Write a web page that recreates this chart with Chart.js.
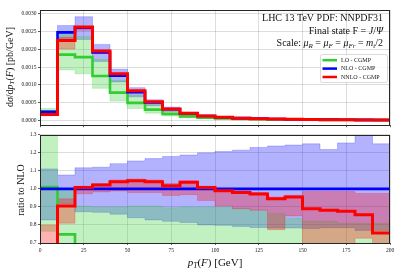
<!DOCTYPE html>
<html>
<head>
<meta charset="utf-8">
<script src="https://cdn.jsdelivr.net/npm/chart.js@4.4.1/dist/chart.umd.min.js"></script>
<style>
  html, body { margin: 0; padding: 0; background: #fff; }
  #wrap { position: relative; width: 407px; height: 271px; }
  #top { position: absolute; left: 0; top: 0; }
  #bottom { position: absolute; left: 0; top: 130px; }
</style>
</head>
<body>
<div id="wrap">
  <canvas id="top" width="407" height="130"></canvas>
  <canvas id="bottom" width="407" height="141"></canvas>
</div>
<script>
// bins of 10 GeV, left edges
const binStarts = [0, 10, 20, 30, 40, 50, 60, 70, 80, 90, 100, 110, 120, 130, 140, 150, 160, 170, 180, 190];
const binEnd = 200;

// upper panel: dsigma/dpT [pb/GeV]
const loCentral   = [0.00024, 0.00185, 0.00178, 0.00125, 0.00078, 0.00049, 0.00030, 0.00018, 0.00011, 0.00007, 0.00005, 0.000035, 0.000026, 0.00002, 0.000015, 0.000012, 0.000009, 0.000007, 0.0000055, 0.0000045];
const nloCentral  = [0.00024, 0.00248, 0.00261, 0.00191, 0.00126, 0.00079, 0.00050, 0.00031, 0.00019, 0.00012, 0.000085, 0.00006, 0.000045, 0.000035, 0.000027, 0.000021, 0.000016, 0.000013, 0.00001, 0.000008];
const nnloCentral = [0.00016, 0.00225, 0.00263, 0.00195, 0.00131, 0.00083, 0.00052, 0.00032, 0.00020, 0.00012, 0.000084, 0.000059, 0.000044, 0.000033, 0.000026, 0.000019, 0.000014, 0.000011, 0.0000086, 0.000006];

const loLow   = [0.00018, 0.00142, 0.00131, 0.00090, 0.00054, 0.00033, 0.00020, 0.00012, 0.00007, 0.000045, 0.00003, 0.000022, 0.000016, 0.000012, 0.000009, 0.000007, 0.0000055, 0.0000045, 0.0000035, 0.000003];
const loHigh  = [0.00033, 0.00247, 0.00236, 0.00172, 0.00113, 0.00071, 0.00045, 0.00028, 0.00017, 0.000108, 0.000077, 0.000053, 0.00004, 0.00003, 0.000024, 0.000017, 0.000013, 0.00001, 0.000008, 0.0000065];
const nloLow  = [0.00020, 0.00228, 0.00228, 0.00166, 0.00108, 0.00066, 0.00041, 0.00025, 0.000155, 0.000096, 0.000068, 0.000048, 0.000035, 0.000027, 0.000021, 0.000016, 0.000013, 0.00001, 0.0000077, 0.0000062];
const nloHigh = [0.00027, 0.00267, 0.00292, 0.00214, 0.00144, 0.00092, 0.00058, 0.00037, 0.000226, 0.000144, 0.000103, 0.000073, 0.000055, 0.000043, 0.000034, 0.000026, 0.00002, 0.000016, 0.000013, 0.00001];
const nnloLow  = [0.00013, 0.00201, 0.00254, 0.00188, 0.00124, 0.00077, 0.00049, 0.00030, 0.00018, 0.00011, 0.000077, 0.000053, 0.00004, 0.000027, 0.000023, 0.000014, 0.000011, 0.000009, 0.0000072, 0.0000052];
const nnloHigh = [0.00019, 0.00234, 0.00265, 0.00197, 0.00132, 0.00083, 0.00053, 0.00032, 0.00020, 0.00012, 0.000085, 0.000059, 0.000044, 0.000033, 0.000026, 0.00002, 0.000016, 0.000013, 0.00001, 0.0000078];

// lower panel: ratio to NLO
const ratioLo    = [1.01, 0.748, 0.685, 0.655, 0.62, 0.62, 0.60, 0.58, 0.58, 0.58, 0.59, 0.58, 0.58, 0.57, 0.56, 0.57, 0.56, 0.54, 0.55, 0.56];
const ratioNlo   = [1, 1, 1, 1, 1, 1, 1, 1, 1, 1, 1, 1, 1, 1, 1, 1, 1, 1, 1, 1];
const ratioNnlo  = [0.68, 0.905, 1.008, 1.022, 1.04, 1.045, 1.04, 1.018, 1.037, 1.008, 0.99, 0.98, 0.972, 0.945, 0.955, 0.89, 0.882, 0.876, 0.857, 0.755];
const ratioLoLow   = [0.765, 0.5, 0.5, 0.5, 0.5, 0.5, 0.5, 0.5, 0.5, 0.5, 0.5, 0.5, 0.5, 0.5, 0.5, 0.5, 0.5, 0.5, 0.5, 0.5];
const ratioLoHigh  = [1.4, 0.999, 0.905, 0.9, 0.9, 0.905, 0.905, 0.895, 0.9, 0.9, 0.9, 0.891, 0.882, 0.864, 0.837, 0.82, 0.82, 0.81, 0.81, 0.81];
const ratioNloLow  = [0.828, 0.918, 0.873, 0.87, 0.86, 0.84, 0.828, 0.82, 0.814, 0.8, 0.798, 0.792, 0.786, 0.783, 0.783, 0.78, 0.785, 0.785, 0.77, 0.77];
const ratioNloHigh = [1.111, 1.077, 1.117, 1.12, 1.14, 1.155, 1.168, 1.18, 1.188, 1.2, 1.208, 1.215, 1.23, 1.238, 1.243, 1.25, 1.218, 1.255, 1.31, 1.25];
const ratioNnloLow  = [0.6, 0.81, 0.973, 0.983, 0.988, 0.98, 0.98, 0.963, 0.968, 0.936, 0.905, 0.89, 0.882, 0.774, 0.85, 0.65, 0.65, 0.65, 0.727, 0.65];
const ratioNnloHigh = [0.80, 0.945, 1.015, 1.03, 1.05, 1.055, 1.05, 1.03, 1.045, 1.015, 1.0, 0.99, 0.98, 0.955, 0.965, 0.985, 0.985, 0.985, 0.975, 0.975];

const xTicks = [0, 25, 50, 75, 100, 125, 150, 175, 200];
const yTicksTop = [0, 0.0005, 0.001, 0.0015, 0.002, 0.0025, 0.003];
const yTicksRatio = [0.7, 0.8, 0.9, 1.0, 1.1, 1.2, 1.3];

const legendLabels = ['LO - CGMP', 'NLO - CGMP', 'NNLO - CGMP'];
const infoLines = [
  [['LHC 13 TeV PDF: NNPDF31', 'r']],
  [['Final state F = ', 'r'], ['J', 'i'], ['/', 'r'], ['Ψ', 'i']],
  [['Scale: ', 'r'], ['μ', 'i'], ['R', 'si'], [' = ', 'r'], ['μ', 'i'], ['F', 'si'], [' = ', 'r'], ['μ', 'i'], ['Fr', 'si'], [' = ', 'r'], ['m', 'i'], ['t', 'si'], ['/2', 'r']]
];

const GREEN = '#33cc33', BLUE = '#0000ff', RED = '#ff0000';
const SERIF = '"Liberation Serif", "DejaVu Serif", serif';

function steps(values) {
  const pts = values.map((v, i) => ({ x: binStarts[i], y: v }));
  pts.push({ x: binEnd, y: values[values.length - 1] });
  return pts;
}

// chart.js paints low "order" last, so lines get small numbers
function band(lo, hi, rgb, order) {
  return [
    { data: steps(lo), order, borderColor: `rgba(${rgb},0.35)`, borderWidth: 0.6, fill: false },
    { data: steps(hi), order, borderColor: `rgba(${rgb},0.35)`, borderWidth: 0.6, fill: '-1', backgroundColor: `rgba(${rgb},0.3)` }
  ];
}

function line(values, color, width, order) {
  return { data: steps(values), order, borderColor: color, borderWidth: width, fill: false };
}

function drawRich(ctx, parts, x, y, size, align) {
  const fonts = parts.map(([, k]) => {
    const sub = k[0] === 's';
    const it = k.includes('i');
    return `${it ? 'italic ' : ''}${sub ? size * 0.7 : size}px ${SERIF}`;
  });
  let w = 0;
  parts.forEach(([t], i) => { ctx.font = fonts[i]; w += ctx.measureText(t).width; });
  let cx = align === 'right' ? x - w : align === 'center' ? x - w / 2 : x;
  ctx.textBaseline = 'middle';
  ctx.textAlign = 'left';
  parts.forEach(([t, k], i) => {
    ctx.font = fonts[i];
    ctx.fillText(t, cx, y + (k[0] === 's' ? size * 0.25 : 0));
    cx += ctx.measureText(t).width;
  });
}

const framePlugin = {
  id: 'frame',
  afterDraw(chart) {
    const { ctx, chartArea: a } = chart;
    ctx.save();
    ctx.strokeStyle = '#262626';
    ctx.lineWidth = 1;
    ctx.strokeRect(Math.round(a.left) + 0.5, Math.round(a.top) + 0.5, Math.round(a.right - a.left) - 1, Math.round(a.bottom - a.top));
    ctx.restore();
  }
};

function commonOptions(yMin, yMax, yTicks, fmt, showXLabels) {
  return {
    responsive: false,
    animation: false,
    layout: { padding: { left: 0, right: 17, top: showXLabels ? 2 : 10, bottom: 0 } },
    elements: { point: { radius: 0 }, line: { stepped: true, tension: 0 } },
    datasets: { line: { clip: 0 } },
    plugins: { legend: { display: false }, tooltip: { enabled: false } },
    scales: {
      x: {
        type: 'linear', min: 0, max: 200,
        afterBuildTicks: s => { s.ticks = xTicks.map(v => ({ value: v })); },
        afterFit: s => { s.height = showXLabels ? 28 : 3; },
        grid: { color: 'rgba(0,0,0,0.17)', lineWidth: 0.8, tickColor: '#333', tickLength: 2 },
        border: { display: false },
        ticks: { display: showXLabels, color: '#222', padding: 2, font: { family: SERIF, size: 5.5 } }
      },
      y: {
        min: yMin, max: yMax,
        afterBuildTicks: s => { s.ticks = yTicks.map(v => ({ value: v })); },
        afterFit: s => { s.width = 40; },
        grid: { color: 'rgba(0,0,0,0.17)', lineWidth: 0.8, tickColor: '#333', tickLength: 2 },
        border: { display: false },
        ticks: { color: '#222', padding: 1.5, font: { family: SERIF, size: 5.5 }, callback: fmt }
      }
    }
  };
}

const topLabels = {
  id: 'topLabels',
  afterDraw(chart) {
    const ctx = chart.ctx;
    ctx.save();
    ctx.fillStyle = '#111';
    ctx.translate(10, 67);
    ctx.rotate(-Math.PI / 2);
    drawRich(ctx, [['d', 'r'], ['σ', 'i'], ['/d', 'r'], ['p', 'i'], ['T', 'si'], ['(', 'r'], ['F', 'i'], [') [pb/GeV]', 'r']], 0, 0, 10, 'center');
    ctx.restore();

    ctx.save();
    ctx.fillStyle = '#111';
    const ys = [18.5, 31.5, 43.5];
    infoLines.forEach((parts, i) => drawRich(ctx, parts, 383, ys[i], 10, 'right'));
    ctx.restore();

    // legend box
    ctx.save();
    ctx.fillStyle = 'rgba(255,255,255,0.8)';
    ctx.strokeStyle = '#d0d0d0';
    ctx.lineWidth = 0.8;
    ctx.beginPath();
    ctx.roundRect(320.5, 54.5, 67, 28, 2);
    ctx.fill();
    ctx.stroke();
    const colors = [GREEN, BLUE, RED];
    const rows = [60.2, 68.6, 77];
    legendLabels.forEach((lab, i) => {
      ctx.strokeStyle = colors[i];
      ctx.lineWidth = 2.5;
      ctx.beginPath();
      ctx.moveTo(322.5, rows[i]);
      ctx.lineTo(337, rows[i]);
      ctx.stroke();
      ctx.fillStyle = '#222';
      ctx.font = `6px ${SERIF}`;
      ctx.textBaseline = 'middle';
      ctx.fillText(lab, 341, rows[i] + 0.3);
    });
    ctx.restore();
  }
};

const bottomLabels = {
  id: 'bottomLabels',
  afterDraw(chart) {
    const ctx = chart.ctx;
    ctx.save();
    ctx.fillStyle = '#111';
    ctx.translate(21, 60);
    ctx.rotate(-Math.PI / 2);
    drawRich(ctx, [['ratio to NLO', 'r']], 0, 0, 10, 'center');
    ctx.restore();
    ctx.save();
    ctx.fillStyle = '#111';
    drawRich(ctx, [['p', 'i'], ['T', 'si'], ['(', 'r'], ['F', 'i'], [') [GeV]', 'r']], 215, 133, 11, 'center');
    ctx.restore();
  }
};

new Chart(document.getElementById('top'), {
  type: 'line',
  data: {
    datasets: [
      ...band(nloLow, nloHigh, '0,0,255', 6),
      ...band(loLow, loHigh, '50,205,50', 5),
      ...band(nnloLow, nnloHigh, '255,0,0', 4),
      line(loCentral, GREEN, 2.6, 3),
      line(nloCentral, BLUE, 2.6, 2),
      line(nnloCentral, RED, 3, 1)
    ]
  },
  options: commonOptions(-0.00014, 0.00311, yTicksTop, v => v.toFixed(4), false),
  plugins: [framePlugin, topLabels]
});

new Chart(document.getElementById('bottom'), {
  type: 'line',
  data: {
    datasets: [
      ...band(ratioNloLow, ratioNloHigh, '0,0,255', 6),
      ...band(ratioLoLow, ratioLoHigh, '50,205,50', 5),
      ...band(ratioNnloLow, ratioNnloHigh, '255,0,0', 4),
      line(ratioLo, GREEN, 2.6, 3),
      line(ratioNlo, BLUE, 2.6, 2),
      line(ratioNnlo, RED, 3, 1)
    ]
  },
  options: commonOptions(0.7, 1.3, yTicksRatio, v => v.toFixed(1), true),
  plugins: [framePlugin, bottomLabels]
});
</script>
</body>
</html>
